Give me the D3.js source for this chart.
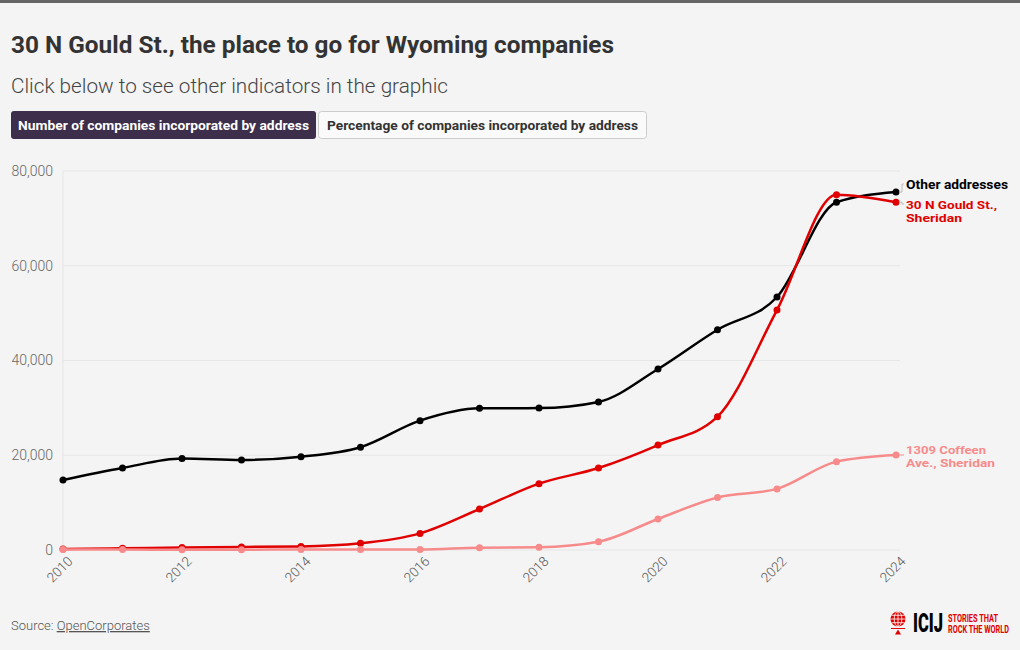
<!DOCTYPE html>
<html>
<head>
<meta charset="utf-8">
<script src="https://cdn.jsdelivr.net/npm/d3@7"></script>
<style>
html,body{margin:0;padding:0;background:#f4f4f4;}
svg{display:block;font-family:Roboto, "Noto Sans", sans-serif;}
</style>
</head>
<body>
<svg id="chart" width="1020" height="650"></svg>
<script>
const years = [2010,2011,2012,2013,2014,2015,2016,2017,2018,2019,2020,2021,2022,2023,2024];
const otherAddresses = [14780,17300,19300,19000,19700,21700,27300,29900,29950,31250,38200,46500,53400,73400,75550];
const gouldSt = [200,350,550,650,750,1400,3500,8650,14000,17300,22150,28150,50650,75000,73400];
const coffeenAve = [100,80,60,70,90,80,100,500,600,1750,6550,11100,12900,18650,20050];
const yTicks = [0,20000,40000,60000,80000];
const xTicks = [2010,2012,2014,2016,2018,2020,2022,2024];
const seriesNames = ["Other addresses","30 N Gould St., Sheridan","1309 Coffeen Ave., Sheridan"];
const seriesColors = ["#000000","#e00000","#f78b8b"];

const svg = d3.select("#chart");
svg.append("rect").attr("x",0).attr("y",0).attr("width",1020).attr("height",3).attr("fill","#666");

svg.append("text").attr("x",11).attr("y",53).attr("font-size",23).attr("font-weight",700).attr("fill","#333")
  .attr("textLength",603).attr("lengthAdjust","spacingAndGlyphs")
  .text("30 N Gould St., the place to go for Wyoming companies");
svg.append("text").attr("x",11).attr("y",93).attr("font-size",20).attr("font-weight",300).attr("fill","#444")
  .attr("textLength",437).attr("lengthAdjust","spacingAndGlyphs")
  .text("Click below to see other indicators in the graphic");

// buttons
const b1 = svg.append("g");
b1.append("rect").attr("x",11).attr("y",111).attr("width",305).attr("height",28).attr("rx",3).attr("fill","#3d2e4b");
b1.append("text").attr("x",18).attr("y",130).attr("font-size",13).attr("font-weight",700).attr("fill","#fff")
  .attr("textLength",291).attr("lengthAdjust","spacingAndGlyphs")
  .text("Number of companies incorporated by address");
const b2 = svg.append("g");
b2.append("rect").attr("x",318.5).attr("y",111.5).attr("width",328).attr("height",27).attr("rx",3).attr("fill","#fafafa").attr("stroke","#ccc");
b2.append("text").attr("x",327).attr("y",130).attr("font-size",13).attr("font-weight",700).attr("fill","#333")
  .attr("textLength",311).attr("lengthAdjust","spacingAndGlyphs")
  .text("Percentage of companies incorporated by address");

const x = d3.scaleLinear().domain([2010,2024]).range([63,896]);
const y = d3.scaleLinear().domain([0,80000]).range([550,171]);

// grid
const grid = svg.append("g");
grid.selectAll("line").data(yTicks).join("line")
  .attr("x1",63).attr("x2",900).attr("y1",d=>y(d)).attr("y2",d=>y(d))
  .attr("stroke","#e6e6e6").attr("stroke-width",1);
grid.append("line").attr("x1",63).attr("x2",63).attr("y1",171).attr("y2",550).attr("stroke","#e6e6e6");

// y axis
const yAxis = svg.append("g").attr("transform","translate(63,0)")
  .call(d3.axisLeft(y).tickValues(yTicks).tickSize(0).tickPadding(10).tickFormat(d3.format(",")));
yAxis.select(".domain").remove();
yAxis.selectAll("text").attr("font-size",14).attr("fill","#666").attr("font-family","Roboto, sans-serif").attr("font-weight",300);

// x axis
const xAxis = svg.append("g").attr("transform","translate(0,550)")
  .call(d3.axisBottom(x).tickValues(xTicks).tickSize(0).tickFormat(d3.format("d")));
xAxis.select(".domain").remove();
xAxis.selectAll("text").attr("font-size",13.5).attr("fill","#555").attr("font-family","Roboto, sans-serif").attr("font-weight",300)
  .attr("text-anchor","end").attr("dx",0).attr("dy",0)
  .attr("transform","translate(8,10) rotate(-45)");

const allSeries = [otherAddresses, gouldSt, coffeenAve];
const line = d3.line().x((d,i)=>x(years[i])).y(d=>y(d)).curve(d3.curveMonotoneX);
const order = [0,1,2];
order.forEach(k=>{
  const g = svg.append("g");
  g.append("path").datum(allSeries[k]).attr("d",line).attr("fill","none")
    .attr("stroke",seriesColors[k]).attr("stroke-width",2.5).attr("stroke-linejoin","round");
  g.selectAll("circle").data(allSeries[k]).join("circle")
    .attr("cx",(d,i)=>x(years[i])).attr("cy",d=>y(d)).attr("r",3.5).attr("fill",seriesColors[k]);
});

// labels
const lx = 906;
const last = i => y(allSeries[i][allSeries[i].length-1]);
svg.append("path").attr("d",`M899,${last(0)} L902,${last(0)} L902,184 L904,184`).attr("fill","none").attr("stroke","#bbb").attr("stroke-width",1);
svg.append("path").attr("d",`M899,${last(1)} L902,${last(1)} L902,204 L904,204`).attr("fill","none").attr("stroke","#bbb").attr("stroke-width",1);
svg.append("line").attr("x1",899).attr("x2",904).attr("y1",last(2)).attr("y2",last(2)).attr("stroke","#f78b8b").attr("stroke-width",1);

svg.append("text").attr("x",lx).attr("y",189).attr("font-size",13).attr("font-weight",700).attr("fill","#000")
  .attr("textLength",102).attr("lengthAdjust","spacingAndGlyphs").text("Other addresses");
const t2 = svg.append("text").attr("y",209).attr("font-size",11.5).attr("font-weight",700).attr("fill","#e00000");
t2.append("tspan").attr("x",lx).attr("textLength",91).attr("lengthAdjust","spacingAndGlyphs").text("30 N Gould St.,");
t2.append("tspan").attr("x",lx).attr("dy",12.5).attr("textLength",56).attr("lengthAdjust","spacingAndGlyphs").text("Sheridan");
const t3 = svg.append("text").attr("y",454).attr("font-size",11.5).attr("font-weight",700).attr("fill","#f78b8b");
t3.append("tspan").attr("x",lx).attr("textLength",80).attr("lengthAdjust","spacingAndGlyphs").text("1309 Coffeen");
t3.append("tspan").attr("x",lx).attr("dy",12.5).attr("textLength",89).attr("lengthAdjust","spacingAndGlyphs").text("Ave., Sheridan");

// source
const src = svg.append("text").attr("x",11).attr("y",630).attr("font-size",13).attr("fill","#555").attr("font-weight",300);
src.append("tspan").text("Source: ");
src.append("tspan").attr("text-decoration","underline").text("OpenCorporates");

// ICIJ logo
const logo = svg.append("g").attr("transform","translate(898,619)");
logo.append("circle").attr("cx",0).attr("cy",0).attr("r",7.5).attr("fill","#e00000");
logo.append("path").attr("d","M-7.5,0 H7.5 M0,-7.5 V7.5 M-6.5,-3.7 H6.5 M-6.5,3.7 H6.5").attr("stroke","#fff").attr("stroke-width",0.8);
logo.append("ellipse").attr("cx",0).attr("cy",0).attr("rx",3.8).attr("ry",7.5).attr("fill","none").attr("stroke","#fff").attr("stroke-width",0.8);
logo.append("line").attr("x1",-7).attr("x2",7).attr("y1",9.5).attr("y2",9.5).attr("stroke","#e00000").attr("stroke-width",1);
logo.append("path").attr("d","M-3,15.5 L0,10.5 L3,15.5 Z").attr("fill","#e00000");
function squeezed(tx, ty, size, weight, color, str, targetW){
  const g = logo.append("g");
  const t = g.append("text").attr("x",0).attr("y",0).attr("font-size",size).attr("font-weight",weight).attr("fill",color).text(str);
  const w = t.node().getComputedTextLength();
  g.attr("transform",`translate(${tx},${ty}) scale(${targetW/w},1)`);
}
squeezed(15,13,25,900,"#000","ICIJ",30);
squeezed(50,2.5,10,700,"#e00000","STORIES THAT",50);
squeezed(50,13.5,10,700,"#e00000","ROCK THE WORLD",61);
</script>
</body>
</html>
